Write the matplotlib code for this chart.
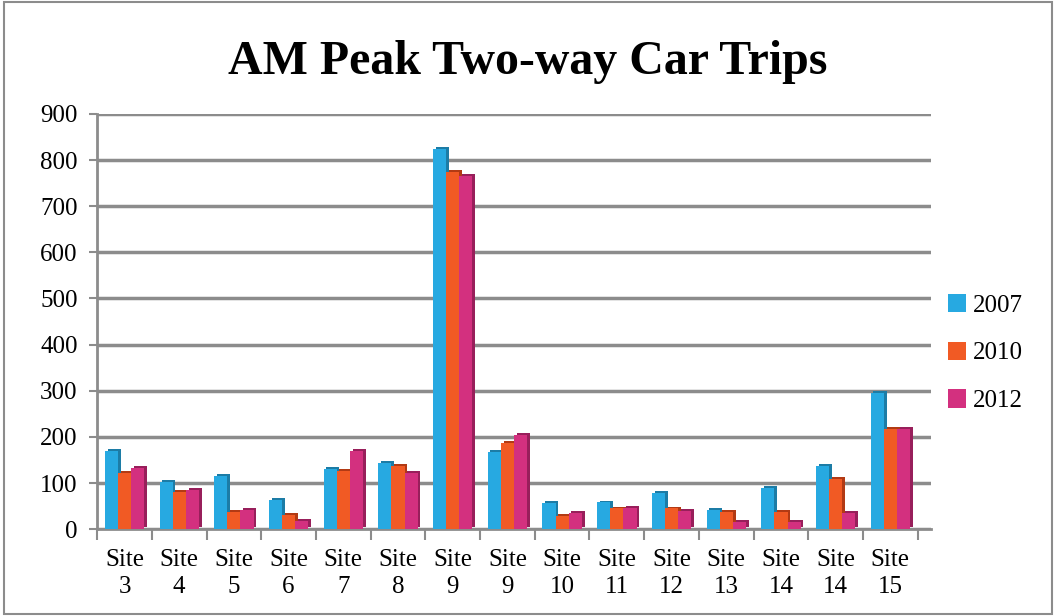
import numpy as np
import matplotlib.pyplot as plt
from matplotlib.patches import Rectangle

plt.rcParams['font.family'] = ['Liberation Serif', 'DejaVu Serif']

# Dados
sites = ['Site\n3', 'Site\n4', 'Site\n5', 'Site\n6', 'Site\n7', 'Site\n8', 'Site\n9',
         'Site\n9', 'Site\n10', 'Site\n11', 'Site\n12', 'Site\n13', 'Site\n14',
         'Site\n14', 'Site\n15']
y2007 = [170, 102, 115, 63, 130, 143, 825, 167, 56, 58, 78, 42, 90, 137, 295]
y2010 = [122, 80, 38, 30, 127, 137, 775, 187, 28, 45, 45, 38, 38, 108, 218]
y2012 = [132, 85, 42, 18, 170, 122, 765, 205, 36, 46, 40, 15, 15, 35, 218]
anos = ['2007', '2010', '2012']
series = [y2007, y2010, y2012]
cores = ['#27A9E1', '#F15A24', '#D3307F']
sombras = ['#1C7CA6', '#B23A14', '#981F5B']

fig = plt.figure(figsize=(10.56, 6.16), dpi=100)
fig.patches.append(Rectangle((0.004, 0.004), 0.992, 0.992, transform=fig.transFigure,
                             fill=False, edgecolor='#8C8C8C', linewidth=1.5))
ax = fig.add_axes([0.092, 0.141, 0.79, 0.674])

x = np.arange(len(sites))
w = 0.24
for i, (vals, c, s) in enumerate(zip(series, cores, sombras)):
    pos = x + (i - 1) * w
    # lateral escura (efeito 3D)
    ax.bar(pos + 0.05, vals, width=w, color=s, zorder=3 + i * 0.1, bottom=4)
    ax.bar(pos, vals, width=w, color=c, zorder=3.05 + i * 0.1, label=anos[i])

ax.set_xlim(-0.5, len(sites) - 0.5 + 0.25)
ax.set_ylim(0, 900)
ax.set_yticks(np.arange(0, 901, 100))
ax.set_xticks(x)
ax.set_xticklabels(sites, fontsize=18, linespacing=1.3)
ax.set_xticks(np.arange(-0.5, len(sites), 1), minor=True)
ax.tick_params(axis='x', which='major', length=0, pad=14)
ax.tick_params(axis='x', which='minor', length=8, color='#8C8C8C', width=1.5)
ax.tick_params(axis='y', length=6, color='#8C8C8C', width=1.5, labelsize=18, pad=8)

for v in np.arange(0, 901, 100):
    ax.axhline(v, color='#8C8C8C', linewidth=2.5, zorder=1)

for lado in ['top', 'right']:
    ax.spines[lado].set_visible(False)
ax.spines['left'].set_color('#8C8C8C')
ax.spines['left'].set_linewidth(2)
ax.spines['bottom'].set_color('#8C8C8C')
ax.spines['bottom'].set_linewidth(2)

fig.suptitle('AM Peak Two-way Car Trips', fontsize=34.5, fontweight='bold', y=0.935)

fig.legend(loc='center left', bbox_to_anchor=(0.876, 0.427), frameon=False,
           fontsize=18, handlelength=0.75, handleheight=0.75, handletextpad=0.25,
           labelspacing=1.0)

plt.savefig('out.png', dpi=100)
